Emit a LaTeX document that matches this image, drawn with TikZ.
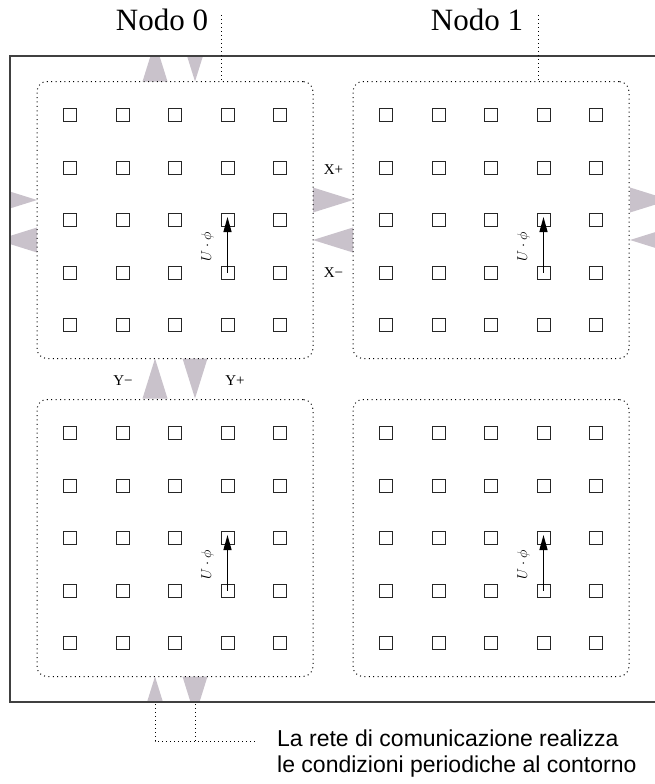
\documentclass[tikz,border=0pt]{standalone}
\usepackage{fontspec}
\setmainfont{Liberation Serif}
\newfontfamily\notefont{Liberation Sans}
\usetikzlibrary{positioning, arrows.meta}
\definecolor{linkgray}{RGB}{201,194,203}

\begin{document}
\begin{tikzpicture}[
  x=1pt, y=-1pt,
  block/.style={draw, line width=1pt, dash pattern=on 1pt off 3.4pt,
    rounded corners=10pt, minimum width=276pt, minimum height=277pt},
  site/.style={draw=black!85, line width=1pt, minimum size=13pt, inner sep=0pt},
  link/.style={fill=linkgray},
  border/.style={draw=black!75, line width=1.3pt},
  lbl/.style={font=\fontsize{15}{18}\selectfont, inner sep=0pt},
  title/.style={font=\fontsize{31}{36}\selectfont, inner sep=0pt},
  note/.style={font=\notefont\fontsize{23}{26}\selectfont, align=left, inner sep=0pt},
  leader/.style={line width=0.9pt, dash pattern=on 1pt off 3pt},
  arr/.style={-{Triangle[length=15pt,width=8pt]}, line width=1.2pt, shorten >=-3pt}
]
  \useasboundingbox (0,0) rectangle (655,784);

  % links between nodes (periodic)
  \begin{scope}
    \clip (10,56) rectangle (657,702);
    \foreach \x in {-3,313,630} {
      \fill[link] (\x,187.5) -- ++(40,12.5) -- ++(-40,12.5) -- cycle;
      \fill[link] (\x,240) -- ++(40,-12.5) -- ++(0,25) -- cycle;
    }
    \foreach \y in {41.5,358.5,676.5} {
      \fill[link] (155,\y) -- ++(12.5,40) -- ++(-25,0) -- cycle;
      \fill[link] (182.5,\y) -- ++(25,0) -- ++(-12.5,40) -- cycle;
    }
  \end{scope}
  \draw[border] (10,56) rectangle (657,702);

  % the four nodes of the machine
  \node[block] (b00) at (175,220) {};
  \node[block] (b10) at (491,220) {};
  \node[block] (b01) at (175,538) {};
  \node[block] (b11) at (491,538) {};

  \foreach \b in {b00,b10,b01,b11} {
    \foreach \i in {0,...,4}
      \foreach \j in {0,...,4}
        \node[site] (\b-\i-\j) at ([shift={(-105+52.5*\i,-105+52.5*\j)}]\b.center) {};
    \draw[arr] (\b-3-3.center) -- (\b-3-2.center);
    \node[lbl, rotate=90] (\b-u) at ([shift={(-20,27)}]\b-3-2.center) {$U\cdot\phi$};
  }

  \node[lbl] (xp) at (333.5,170) {X+};
  \node[lbl] (xm) at (333.5,273) {X−};
  \node[lbl] (ym) at (123,381) {Y−};
  \node[lbl] (yp) at (235,381) {Y+};

  \node[title] (nodo0) at (162,20) {Nodo 0};
  \node[title] (nodo1) at (477,20) {Nodo 1};
  \coordinate (t0) at (221,15);
  \coordinate (t1) at (538,15);
  \draw[leader] (t0) -- (t0 |- b00.north);
  \draw[leader] (t1) -- (t1 |- b10.north);

  % note on the boundary conditions
  \coordinate (n0) at (155,704);
  \coordinate (n1) at (195,704);
  \coordinate (n2) at (258,741);
  \draw[leader] (n0) -- (n0 |- n2) -- (n2);
  \draw[leader] (n1) -- (n1 |- n2);
  \node[note, anchor=west] (note) at (277,753.5)
    {La rete di comunicazione realizza\\le condizioni periodiche al contorno};
\end{tikzpicture}
\end{document}
